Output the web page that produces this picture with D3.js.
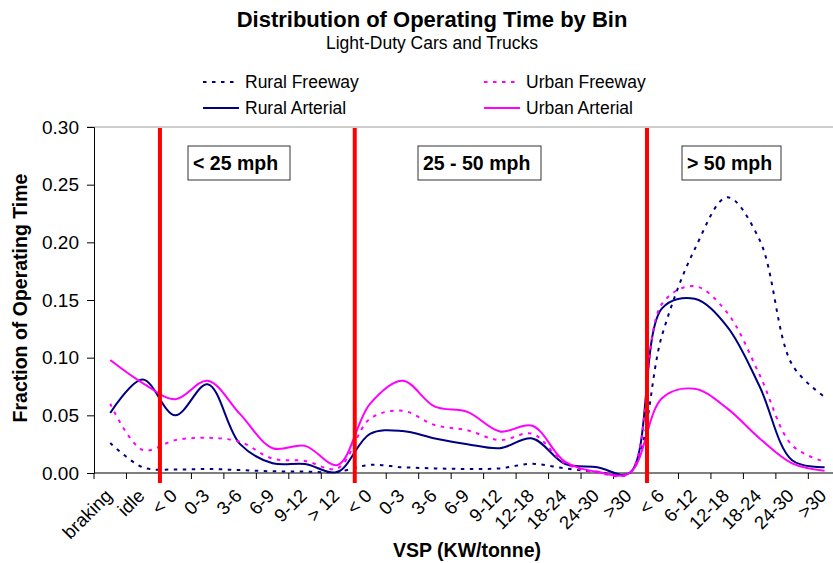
<!DOCTYPE html>
<html>
<head>
<meta charset="utf-8">
<script src="https://cdn.jsdelivr.net/npm/d3@7"></script>
<style>
	body { margin: 0; background: #fff; }
	svg { font-family: 'Liberation Sans', Arial, sans-serif; }
</style>
</head>
<body>
<svg id="chart" width="833" height="563"></svg>
<script>
// bins along the x axis (names repeat between speed ranges, so index them)
const categories = ['braking', 'idle', '< 0', '0-3', '3-6', '6-9', '9-12', '> 12',
	'< 0', '0-3', '3-6', '6-9', '9-12', '12-18', '18-24', '24-30', '>30',
	'< 6', '6-12', '12-18', '18-24', '24-30', '>30']

const ruralFreeway = [0.026, 0.005, 0.003, 0.0035, 0.0025, 0.0015, 0.0012, 0.001,
	0.007, 0.005, 0.004, 0.0035, 0.004, 0.008, 0.004, 0.001, 0.0,
	0.12, 0.194, 0.239, 0.202, 0.094, 0.066]
const ruralArterial = [0.052, 0.081, 0.050, 0.077, 0.025, 0.0085, 0.0078, 0.001,
	0.034, 0.0365, 0.030, 0.025, 0.0215, 0.030, 0.008, 0.005, 0.0,
	0.143, 0.151, 0.127, 0.075, 0.011, 0.005]
const urbanFreeway = [0.060, 0.020, 0.0285, 0.0305, 0.027, 0.0125, 0.0105, 0.004,
	0.047, 0.054, 0.0415, 0.037, 0.0285, 0.034, 0.0085, 0.0005, 0.0,
	0.147, 0.162, 0.139, 0.085, 0.024, 0.0098]
const urbanArterial = [0.098, 0.078, 0.064, 0.080, 0.051, 0.0215, 0.0235, 0.007,
	0.060, 0.080, 0.0575, 0.053, 0.036, 0.041, 0.0098, 0.001, 0.0,
	0.065, 0.073, 0.056, 0.030, 0.0084, 0.002]

const yTicks = [0, 0.05, 0.10, 0.15, 0.20, 0.25, 0.30]

// speed range boundaries (bin index where each range starts) and labels
const boundaries = [2, 8, 17]
const zoneLabels = ['< 25 mph', '25 - 50 mph', '> 50 mph']

const series = [
	{ name: 'Rural Freeway', values: ruralFreeway, color: '#000080', dash: '3.5,5.5' },
	{ name: 'Rural Arterial', values: ruralArterial, color: '#000080', dash: null },
	{ name: 'Urban Freeway', values: urbanFreeway, color: '#FF00FF', dash: '3.5,5.5' },
	{ name: 'Urban Arterial', values: urbanArterial, color: '#FF00FF', dash: null }
]

const svg = d3.select('#chart')
const plotLeft = 94
const plotTop = 127
const plotBottom = 473
const step = 32.47

const xScale = d3.scaleBand()
	.domain(d3.range(categories.length))
	.range([plotLeft, plotLeft + step * categories.length])
	.padding(0)

const yScale = d3.scaleLinear()
	.domain([0, 0.30])
	.range([plotBottom, plotTop])

const xEdge = i => plotLeft + i * xScale.step()
const xMid = i => xScale(i) + xScale.bandwidth() / 2

// title
svg.append('text')
	.attr('x', 432)
	.attr('y', 27)
	.attr('text-anchor', 'middle')
	.style('font-size', '22px')
	.style('font-weight', 'bold')
	.text('Distribution of Operating Time by Bin')

svg.append('text')
	.attr('x', 432)
	.attr('y', 49)
	.attr('text-anchor', 'middle')
	.style('font-size', '17.5px')
	.text('Light-Duty Cars and Trucks')

// legend, two columns
const legend = svg.selectAll('g.legend')
	.data(series)
	.enter()
	.append('g')
		.attr('class', 'legend')
		.attr('transform', (d, i) => `translate(${i < 2 ? 203 : 484}, ${i % 2 === 0 ? 82 : 108})`)

legend.append('line')
	.attr('x1', 0)
	.attr('x2', 36)
	.attr('y1', 0)
	.attr('y2', 0)
	.style('stroke', d => d.color)
	.style('stroke-width', 2)
	.style('stroke-dasharray', d => d.dash)

legend.append('text')
	.attr('x', 42)
	.attr('y', 6)
	.style('font-size', '17.5px')
	.text(d => d.name)

// top border of plot area
svg.append('line')
	.attr('x1', 87)
	.attr('x2', 833)
	.attr('y1', yScale(0.30))
	.attr('y2', yScale(0.30))
	.style('stroke', '#bdbdbd')
	.style('stroke-width', 1.5)

// y axis
const yAxis = d3.axisLeft(yScale)
	.tickValues(yTicks)
	.tickFormat(d3.format('.2f'))
	.tickSize(7)
	.tickPadding(8)

svg.append('g')
	.attr('transform', `translate(${plotLeft}, 0)`)
	.call(yAxis)
	.call(g => g.selectAll('text').style('font-size', '19px').style('fill', '#000'))
	.call(g => g.selectAll('line, path').style('stroke', '#000'))

svg.append('text')
	.attr('transform', 'translate(27, 298) rotate(-90)')
	.attr('text-anchor', 'middle')
	.style('font-size', '19.5px')
	.style('font-weight', 'bold')
	.text('Fraction of Operating Time')

// x axis line and ticks between bins
svg.append('line')
	.attr('x1', plotLeft)
	.attr('x2', 833)
	.attr('y1', plotBottom)
	.attr('y2', plotBottom)
	.style('stroke', '#000')

svg.selectAll('line.xtick')
	.data(d3.range(categories.length + 1))
	.enter()
	.append('line')
		.attr('class', 'xtick')
		.attr('x1', d => xEdge(d))
		.attr('x2', d => xEdge(d))
		.attr('y1', plotBottom)
		.attr('y2', plotBottom + 6)
		.style('stroke', '#000')

svg.selectAll('text.xlabel')
	.data(categories)
	.enter()
	.append('text')
		.attr('class', 'xlabel')
		.attr('transform', (d, i) => `translate(${xMid(i) + 3}, ${plotBottom + 24}) rotate(-45)`)
		.attr('text-anchor', 'end')
		.style('font-size', '18.5px')
		.text(d => d)

svg.append('text')
	.attr('x', 467)
	.attr('y', 557)
	.attr('text-anchor', 'middle')
	.style('font-size', '19.5px')
	.style('font-weight', 'bold')
	.text('VSP (KW/tonne)')

// smoothed series lines
const line = d3.line()
	.x((d, i) => xMid(i))
	.y(d => yScale(d))
	.curve(d3.curveCatmullRom.alpha(0.5))

svg.selectAll('path.series')
	.data(series)
	.enter()
	.append('path')
		.attr('class', 'series')
		.attr('d', d => line(d.values))
		.style('fill', 'none')
		.style('stroke', d => d.color)
		.style('stroke-width', 2)
		.style('stroke-dasharray', d => d.dash)

// red separators between speed ranges
svg.selectAll('line.sep')
	.data(boundaries)
	.enter()
	.append('line')
		.attr('class', 'sep')
		.attr('x1', d => xEdge(d) + 1)
		.attr('x2', d => xEdge(d) + 1)
		.attr('y1', plotTop + 1)
		.attr('y2', plotBottom + 10)
		.style('stroke', '#FF0000')
		.style('stroke-width', 4)

// speed range boxes
const boxX = [188, 418, 682]
const boxW = [102, 123, 99]

const boxes = svg.selectAll('g.zone')
	.data(zoneLabels)
	.enter()
	.append('g')
		.attr('class', 'zone')
		.attr('transform', (d, i) => `translate(${boxX[i]}, 146)`)

boxes.append('rect')
	.attr('width', (d, i) => boxW[i])
	.attr('height', 34)
	.style('fill', '#fff')
	.style('stroke', '#333')
	.style('stroke-width', 1)

boxes.append('text')
	.attr('x', 5)
	.attr('y', 24)
	.style('font-size', '19.5px')
	.style('font-weight', 'bold')
	.text(d => d)
</script>
</body>
</html>
